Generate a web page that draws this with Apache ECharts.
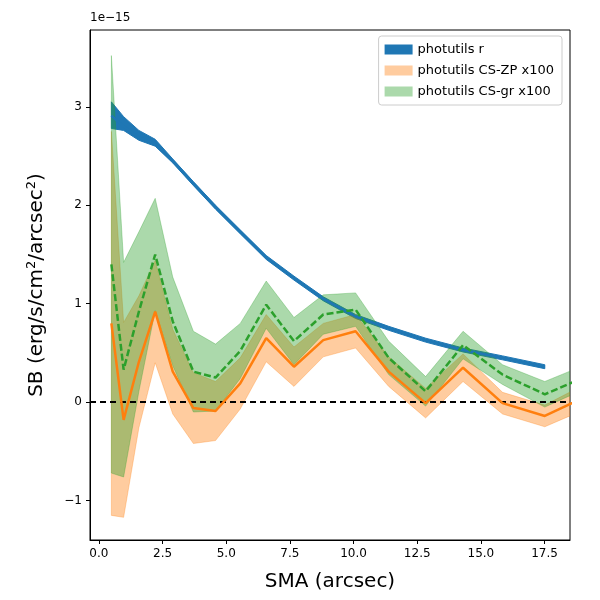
<!DOCTYPE html>
<html>
<head>
<meta charset="utf-8">
<script src="https://cdn.jsdelivr.net/npm/echarts@6/dist/echarts.min.js"></script>
<style>html,body{margin:0;padding:0;background:#fff}#map{width:600px;height:600px}</style>
</head>
<body>
<div id="map"></div>
<script>
// values in units of 1e-15
var smaR = [0.49, 0.97, 1.57, 2.21, 2.90, 3.71, 4.58, 5.55, 6.57, 7.66, 8.81, 10.08, 11.38, 12.83, 14.30, 15.85, 17.51];
var rMid = [2.91, 2.80, 2.69, 2.62, 2.45, 2.22, 1.98, 1.73, 1.47, 1.26, 1.05, 0.87, 0.75, 0.63, 0.53, 0.45, 0.36];
var rLow = [2.78, 2.76, 2.66, 2.60, 2.43, 2.20, 1.96, 1.71, 1.45, 1.24, 1.03, 0.85, 0.73, 0.61, 0.51, 0.43, 0.34];
var rUp  = [3.05, 2.90, 2.76, 2.67, 2.47, 2.24, 2.00, 1.75, 1.49, 1.28, 1.07, 0.89, 0.77, 0.65, 0.55, 0.47, 0.38];

var smaCS = [0.49, 0.97, 1.57, 2.21, 2.90, 3.71, 4.58, 5.55, 6.57, 7.66, 8.81, 10.08, 11.38, 12.83, 14.30, 15.85, 17.51, 19.30];
var zpMid = [0.80, -0.18, 0.41, 0.92, 0.31, -0.06, -0.09, 0.19, 0.65, 0.36, 0.63, 0.72, 0.31, -0.01, 0.35, -0.01, -0.14, 0.08];
var zpLow = [-1.15, -1.17, -0.26, 0.40, -0.12, -0.42, -0.39, -0.07, 0.41, 0.16, 0.46, 0.55, 0.16, -0.16, 0.21, -0.12, -0.25, -0.05];
var zpUp  = [2.75, 0.81, 1.08, 1.44, 0.74, 0.30, 0.21, 0.45, 0.89, 0.56, 0.80, 0.89, 0.46, 0.14, 0.49, 0.10, -0.03, 0.21];
var grMid = [1.40, 0.33, 0.92, 1.50, 0.82, 0.31, 0.25, 0.52, 0.99, 0.62, 0.89, 0.94, 0.45, 0.11, 0.58, 0.28, 0.08, 0.28];
var grLow = [-0.72, -0.76, 0.11, 0.93, 0.37, -0.10, -0.09, 0.24, 0.75, 0.38, 0.69, 0.77, 0.28, -0.04, 0.44, 0.18, -0.05, 0.16];
var grUp  = [3.52, 1.42, 1.73, 2.07, 1.27, 0.72, 0.59, 0.80, 1.23, 0.86, 1.09, 1.11, 0.62, 0.26, 0.72, 0.38, 0.21, 0.40];

var xTicks = [0, 2.5, 5, 7.5, 10, 12.5, 15, 17.5];
var yTicks = [-1, 0, 1, 2, 3];

function pairs(xs, ys){ return xs.map(function(x, i){ return [x, ys[i]]; }); }

// filled band between lo and up, drawn as one polygon through the axis scales
function band(name, xs, lo, up, fill, edge){
    var data = xs.map(function(x, i){ return [x, lo[i], up[i]]; });
    return {
        name: name, type: 'custom', data: data, silent: true, z: 2,
        itemStyle: {color: fill},
        renderItem: function(params, api){
            if (params.dataIndex !== 0) return null;
            var pts = [], i;
            for (i = 0; i < data.length; i++) pts.push(api.coord([data[i][0], data[i][2]]));
            for (i = data.length - 1; i >= 0; i--) pts.push(api.coord([data[i][0], data[i][1]]));
            var cs = params.coordSys;
            return {
                type: 'polygon', shape: {points: pts},
                style: {fill: fill, stroke: edge, lineWidth: 1},
                clipPath: {type: 'rect', shape: {x: cs.x, y: cs.y, width: cs.width, height: cs.height}}
            };
        }
    };
}
function line(name, xs, ys, color, type){
    return {name: name, type: 'line', data: pairs(xs, ys), symbol: 'none', z: 5,
            lineStyle: {color: color, width: 2.5, type: type}, itemStyle: {color: color}};
}

var series = [
    band('photutils r', smaR, rLow, rUp, '#1f77b4', '#1f77b4'),
    band('photutils CS-ZP x100', smaCS, zpLow, zpUp, 'rgba(255,127,14,0.4)', 'rgba(255,127,14,0.3)'),
    band('photutils CS-gr x100', smaCS, grLow, grUp, 'rgba(44,160,44,0.4)', 'rgba(44,160,44,0.3)'),
    line('r_line', smaR, rMid, '#1f77b4', 'solid'),
    line('zp_line', smaCS, zpMid, '#ff7f0e', 'solid'),
    line('gr_line', smaCS, grMid, '#2ca02c', [7, 3])
];
series[5].markLine = {
    silent: true, symbol: 'none', label: {show: false},
    lineStyle: {color: '#000', type: [6, 4], width: 1.8},
    data: [{yAxis: 0}]
};

var myChart = echarts.init(document.getElementById('map'));
var option = {
    backgroundColor: '#fff',
    animation: false,
    grid: {left: 90, right: 30, top: 30, bottom: 60, show: true, borderColor: '#000', borderWidth: 1},
    legend: {
        data: ['photutils r', 'photutils CS-ZP x100', 'photutils CS-gr x100'],
        orient: 'vertical', right: 38, top: 36, icon: 'rect', itemWidth: 28, itemHeight: 10, itemGap: 8,
        borderColor: '#ccc', borderWidth: 1, borderRadius: 3, padding: [7, 8, 7, 6],
        backgroundColor: 'rgba(255,255,255,0.8)',
        textStyle: {fontFamily: 'DejaVu Sans', fontSize: 13, color: '#000'}
    },
    xAxis: {
        type: 'value', min: -0.35, max: 18.5,
        name: 'SMA (arcsec)', nameLocation: 'middle', nameGap: 32,
        nameTextStyle: {fontFamily: 'DejaVu Sans', fontSize: 20, color: '#000'},
        axisLine: {show: true, onZero: false, lineStyle: {color: '#000'}},
        axisTick: {show: true, customValues: xTicks, length: 4, lineStyle: {color: '#000'}},
        axisLabel: {customValues: xTicks, fontFamily: 'DejaVu Sans', fontSize: 12, color: '#000',
                    formatter: function(v){ return v.toFixed(1); }},
        splitLine: {show: false}
    },
    yAxis: {
        type: 'value', min: -1.4, max: 3.78,
        name: '{a|SB (erg/s/cm}{s|2}{a|/arcsec}{s|2}{a|)}', nameLocation: 'middle', nameGap: 42,
        nameTextStyle: {rich: {
            a: {fontFamily: 'DejaVu Sans', fontSize: 20, color: '#000'},
            s: {fontFamily: 'DejaVu Sans', fontSize: 13, color: '#000', verticalAlign: 'top', padding: [0, 0, 10, 0]}
        }},
        axisLine: {show: true, onZero: false, lineStyle: {color: '#000'}},
        axisTick: {show: true, customValues: yTicks, length: 4, lineStyle: {color: '#000'}},
        axisLabel: {customValues: yTicks, fontFamily: 'DejaVu Sans', fontSize: 12, color: '#000',
                    formatter: function(v){ return v < 0 ? '\u2212' + (-v) : String(v); }},
        splitLine: {show: false}
    },
    graphic: [{type: 'text', left: 90, top: 12,
               style: {text: '1e\u221215', font: '12px DejaVu Sans', fill: '#000'}}],
    series: series
};
myChart.setOption(option);
</script>
</body>
</html>
